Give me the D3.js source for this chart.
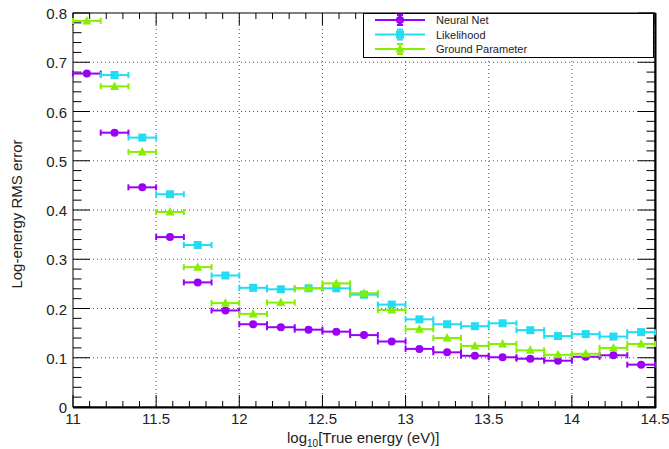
<!DOCTYPE html>
<html>
<head>
<meta charset="utf-8">
<script src="https://cdn.jsdelivr.net/npm/d3@7"></script>
<style>
  body { margin: 0; background: #fff; }
  svg { font-family: "Liberation Sans", Arial, sans-serif; }
</style>
</head>
<body>
<svg id="chart" width="669" height="449"></svg>
<script>
// bins of width 1/6 in log10(E) from 11 to 14.5
const binEdges = d3.range(22).map(i => 11 + i / 6);
const neuralNet = [0.677, 0.557, 0.446, 0.345, 0.253, 0.196, 0.168, 0.162, 0.157, 0.153, 0.146,
  0.133, 0.118, 0.111, 0.104, 0.101, 0.098, 0.094, 0.102, 0.105, 0.086];
const likelihood = [null, 0.674, 0.547, 0.432, 0.329, 0.267, 0.242, 0.239, 0.241, 0.241, 0.228,
  0.208, 0.178, 0.168, 0.164, 0.170, 0.156, 0.144, 0.148, 0.143, 0.152];
const groundParam = [0.784, 0.651, 0.518, 0.396, 0.284, 0.211, 0.189, 0.212, 0.241, 0.251, 0.231,
  0.197, 0.158, 0.140, 0.124, 0.128, 0.115, 0.106, 0.108, 0.120, 0.128];
const yErr = 0.003;

const xTicks = [11, 11.5, 12, 12.5, 13, 13.5, 14, 14.5];
const yTicks = [0, 0.1, 0.2, 0.3, 0.4, 0.5, 0.6, 0.7, 0.8];

const series = [
  { name: "Neural Net", values: neuralNet, color: "#9900f5", marker: "circle" },
  { name: "Likelihood", values: likelihood, color: "#22dcf2", marker: "square" },
  { name: "Ground Parameter", values: groundParam, color: "#86ef00", marker: "triangle" }
];

const svg = d3.select("#chart");
const L = 73, R = 655, T = 13, B = 407;

const x = d3.scaleLinear().domain([11, 14.5]).range([L, R]);
const y = d3.scaleLinear().domain([0, 0.8]).range([B, T]);

// grid
const grid = svg.append("g").attr("stroke", "#555").attr("stroke-width", 1)
  .attr("stroke-dasharray", "1,3");
xTicks.slice(1, -1).forEach(t => {
  grid.append("line").attr("x1", x(t)).attr("x2", x(t)).attr("y1", T).attr("y2", B);
});
yTicks.slice(1, -1).forEach(t => {
  grid.append("line").attr("x1", L).attr("x2", R).attr("y1", y(t)).attr("y2", y(t));
});

// ticks (ROOT style, both sides)
const tk = svg.append("g").attr("stroke", "#000").attr("stroke-width", 1);
d3.range(0, 0.8001, 0.02).forEach((v, i) => {
  const len = i % 5 === 0 ? 17 : 8.5;
  tk.append("line").attr("x1", L).attr("x2", L + len).attr("y1", y(v)).attr("y2", y(v));
  tk.append("line").attr("x1", R).attr("x2", R - len).attr("y1", y(v)).attr("y2", y(v));
});
d3.range(11, 14.5001, 0.1).forEach((v, i) => {
  const len = i % 5 === 0 ? 12 : 6;
  tk.append("line").attr("x1", x(v)).attr("x2", x(v)).attr("y1", B).attr("y2", B - len);
  tk.append("line").attr("x1", x(v)).attr("x2", x(v)).attr("y1", T).attr("y2", T + len);
});

// frame
svg.append("rect").attr("x", L).attr("y", T).attr("width", R - L).attr("height", B - T)
  .attr("fill", "none").attr("stroke", "#000").attr("stroke-width", 1);
svg.append("line").attr("x1", L).attr("x2", R + 1).attr("y1", B + 0.5).attr("y2", B + 0.5)
  .attr("stroke", "#000").attr("stroke-width", 2);
svg.append("line").attr("x1", R + 0.5).attr("x2", R + 0.5).attr("y1", T).attr("y2", B + 1)
  .attr("stroke", "#000").attr("stroke-width", 2);

// tick labels
svg.append("g").selectAll("text").data(yTicks).join("text")
  .attr("x", L - 6).attr("y", d => y(d) + 6)
  .attr("text-anchor", "end").attr("font-size", 15).attr("fill", "#222")
  .text(d => d === 0 ? "0" : d3.format(".1f")(d));
svg.append("g").selectAll("text").data(xTicks).join("text")
  .attr("x", d => x(d)).attr("y", B + 17)
  .attr("text-anchor", "middle").attr("font-size", 15).attr("fill", "#222")
  .text(d => d);

// axis titles
svg.append("text").attr("transform", `translate(22,${(T + B) / 2 + 4}) rotate(-90)`)
  .attr("text-anchor", "middle").attr("font-size", 15).attr("fill", "#222")
  .text("Log-energy RMS error");
const xt = svg.append("text").attr("x", 287).attr("y", 443).attr("font-size", 15).attr("fill", "#222");
xt.append("tspan").text("log");
xt.append("tspan").attr("font-size", 10).attr("dy", 4).text("10");
xt.append("tspan").attr("dy", -4).text("[True energy (eV)]");

function drawMarker(g, kind, cx, cy, color) {
  if (kind === "circle") {
    g.append("circle").attr("cx", cx).attr("cy", cy).attr("r", 4).attr("fill", color);
  } else if (kind === "square") {
    g.append("rect").attr("x", cx - 4).attr("y", cy - 4).attr("width", 8).attr("height", 8).attr("fill", color);
  } else {
    g.append("path").attr("d", `M${cx},${cy - 5}L${cx + 4.5},${cy + 3.5}L${cx - 4.5},${cy + 3.5}Z`).attr("fill", color);
  }
}

// data with horizontal bin-width error bars
series.forEach(s => {
  const g = svg.append("g").attr("stroke", s.color).attr("stroke-width", 2);
  s.values.forEach((v, i) => {
    if (v == null) return;
    const x0 = x(binEdges[i]), x1 = x(binEdges[i + 1]), xc = (x0 + x1) / 2, yc = y(v);
    g.append("line").attr("x1", x0).attr("x2", x1).attr("y1", yc).attr("y2", yc);
    g.append("line").attr("x1", x0).attr("x2", x0).attr("y1", yc - 3).attr("y2", yc + 3);
    g.append("line").attr("x1", x1).attr("x2", x1).attr("y1", yc - 3).attr("y2", yc + 3);
    g.append("line").attr("x1", xc).attr("x2", xc).attr("y1", y(v + yErr)).attr("y2", y(v - yErr));
    drawMarker(g.append("g").attr("stroke", "none"), s.marker, xc, yc, s.color);
  });
});

// legend
const lg = svg.append("g");
lg.append("rect").attr("x", 363.5).attr("y", 13.5).attr("width", 290).attr("height", 44)
  .attr("fill", "#fff").attr("stroke", "#000").attr("stroke-width", 1);
series.forEach((s, i) => {
  const yy = 20 + i * 14.5;
  const g = lg.append("g").attr("stroke", s.color).attr("stroke-width", 2);
  g.append("line").attr("x1", 375).attr("x2", 425).attr("y1", yy).attr("y2", yy);
  g.append("line").attr("x1", 400).attr("x2", 400).attr("y1", yy - 5).attr("y2", yy + 5);
  g.append("line").attr("x1", 397).attr("x2", 403).attr("y1", yy - 5).attr("y2", yy - 5);
  g.append("line").attr("x1", 397).attr("x2", 403).attr("y1", yy + 5).attr("y2", yy + 5);
  drawMarker(g.append("g").attr("stroke", "none"), s.marker, 400, yy, s.color);
  lg.append("text").attr("x", 436).attr("y", yy + 4).attr("font-size", 11).attr("fill", "#222")
    .text(s.name);
});
</script>
</body>
</html>
